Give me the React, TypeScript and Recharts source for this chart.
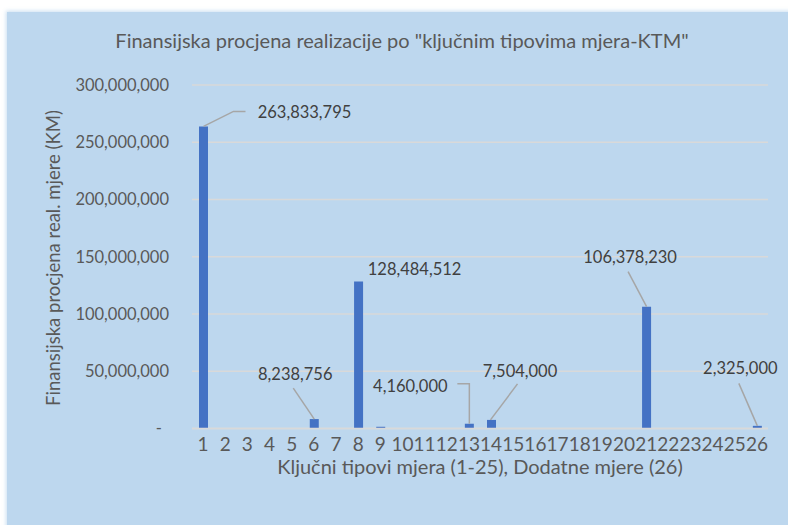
import { BarChart, Bar, XAxis, YAxis, CartesianGrid, LabelList } from "recharts";

const categories = ["1", "2", "3", "4", "5", "6", "7", "8", "9", "10", "11", "12", "13", "14", "15", "16", "17", "18", "19", "20", "21", "22", "23", "24", "25", "26"];
const values = [263833795, 0, 0, 400000, 0, 8238756, 0, 128484512, 1500000, 200000, 0, 0, 4160000, 7504000, 0, 0, 0, 0, 0, 0, 106378230, 0, 0, 0, 0, 2325000];
const yTicks = [0, 50000000, 100000000, 150000000, 200000000, 250000000, 300000000];

const title = 'Finansijska procjena realizacije po "ključnim tipovima mjera-KTM"';
const xTitle = "Ključni tipovi mjera (1-25), Dodatne mjere (26)";
const yTitle = "Finansijska procjena real. mjere (KM)";

// label placement relative to bar top centre (Excel-style leader lines)
const labelLayout: Record<string, { dx: number; dy: number; leader?: number[][] }> = {
  "1": { dx: 101, dy: -14.5, leader: [[0, 0], [30, -15], [42, -15]] },
  "6": { dx: -19, dy: -45, leader: [[-21, -31], [0, 0]] },
  "8": { dx: 56, dy: -12 },
  "13": { dx: -59, dy: -38, leader: [[-12, -40], [0, -40], [0, 0]] },
  "14": { dx: 28.5, dy: -49, leader: [[26, -36], [-1, 0]] },
  "21": { dx: -16.5, dy: -49.5, leader: [[-18.5, -35], [0, 0]] },
  "26": { dx: -17, dy: -57.5, leader: [[-18.5, -42.5], [0, 0]] },
};

const data = categories.map((cat, i) => ({ cat, value: values[i] }));

const FONT = "Lato, 'Open Sans', sans-serif";
const GREY = "#595959";

const fmt = (v: number) => (v === 0 ? "-" : v.toLocaleString("en-US"));

function YTick(props: any) {
  const { x, y, payload } = props;
  const v = payload.value;
  return (
    <text x={v === 0 ? x - 7 : x} y={y} dy="0.355em" textAnchor="end" fontSize={16.5} fontFamily={FONT} fill={GREY}>
      {fmt(v)}
    </text>
  );
}

function XTick(props: any) {
  const { x, y, payload } = props;
  return (
    <text x={x} y={y} dy="0.71em" textAnchor="middle" fontSize={19} fontFamily={FONT} fill={GREY}>
      {payload.value}
    </text>
  );
}

function renderLabel(props: any) {
  const { x, y, width, value } = props;
  // LabelList skips empty bars, so find the category by its value
  const cat = categories[values.indexOf(Number(value))];
  const layout = labelLayout[cat];
  if (!layout) return null;
  const cx = Number(x) + Number(width) / 2;
  const ty = Number(y);
  return (
    <g key={`lbl-${cat}`}>
      {layout.leader && (
        <polyline
          points={layout.leader.map(([px, py]) => `${cx + px},${ty + py}`).join(" ")}
          fill="none"
          stroke="#A6A6A6"
          strokeWidth={1.5}
        />
      )}
      <text x={cx + layout.dx} y={ty + layout.dy} dy="0.355em" textAnchor="middle" fontSize={16.5} fontFamily={FONT} fill="#404040">
        {Number(value).toLocaleString("en-US")}
      </text>
    </g>
  );
}

export default function App() {
  return (
    <div style={{ position: "absolute", left: 0, top: 0, width: 788, height: 525, overflow: "hidden", background: "#fff", fontFamily: FONT }}>
      <div
        style={{
          position: "absolute",
          left: 7,
          top: 12,
          width: 790,
          height: 520,
          background: "#BDD7EE",
          boxShadow: "0 0 4px 1px rgba(189,215,238,0.8)",
        }}
      />
      <div style={{ position: "absolute", left: 0, top: 28, width: 804, textAlign: "center", fontSize: 20, color: GREY, whiteSpace: "nowrap" }}>
        {title}
      </div>
      <div style={{ position: "absolute", left: 180, top: 454, width: 600, textAlign: "center", fontSize: 20, color: GREY, whiteSpace: "nowrap" }}>
        {xTitle}
      </div>
      <div
        style={{
          position: "absolute",
          left: 53,
          top: 258,
          transform: "translate(-50%, -50%) rotate(-90deg)",
          fontSize: 18.5,
          color: GREY,
          whiteSpace: "nowrap",
        }}
      >
        {yTitle}
      </div>
      <div style={{ position: "absolute", left: 0, top: 0 }}>
        <BarChart width={788} height={525} data={data} margin={{ top: 85, right: 20, bottom: 36.5, left: 42 }} barSize={9}>
          <CartesianGrid vertical={false} stroke="#D9D9D9" strokeWidth={1.5} />
          <XAxis
            dataKey="cat"
            interval={0}
            height={60}
            tickLine={false}
            tickSize={0}
            tickMargin={9}
            axisLine={{ stroke: "#D9D9D9", strokeWidth: 1.5 }}
            tick={XTick}
          />
          <YAxis
            type="number"
            width={150}
            domain={[0, 300000000]}
            ticks={yTicks}
            interval={0}
            axisLine={false}
            tickLine={false}
            tickSize={0}
            tickMargin={23}
            tick={YTick}
          />
          <Bar dataKey="value" fill="#4472C4" isAnimationActive={false}>
            <LabelList dataKey="value" content={renderLabel} />
          </Bar>
        </BarChart>
      </div>
    </div>
  );
}
